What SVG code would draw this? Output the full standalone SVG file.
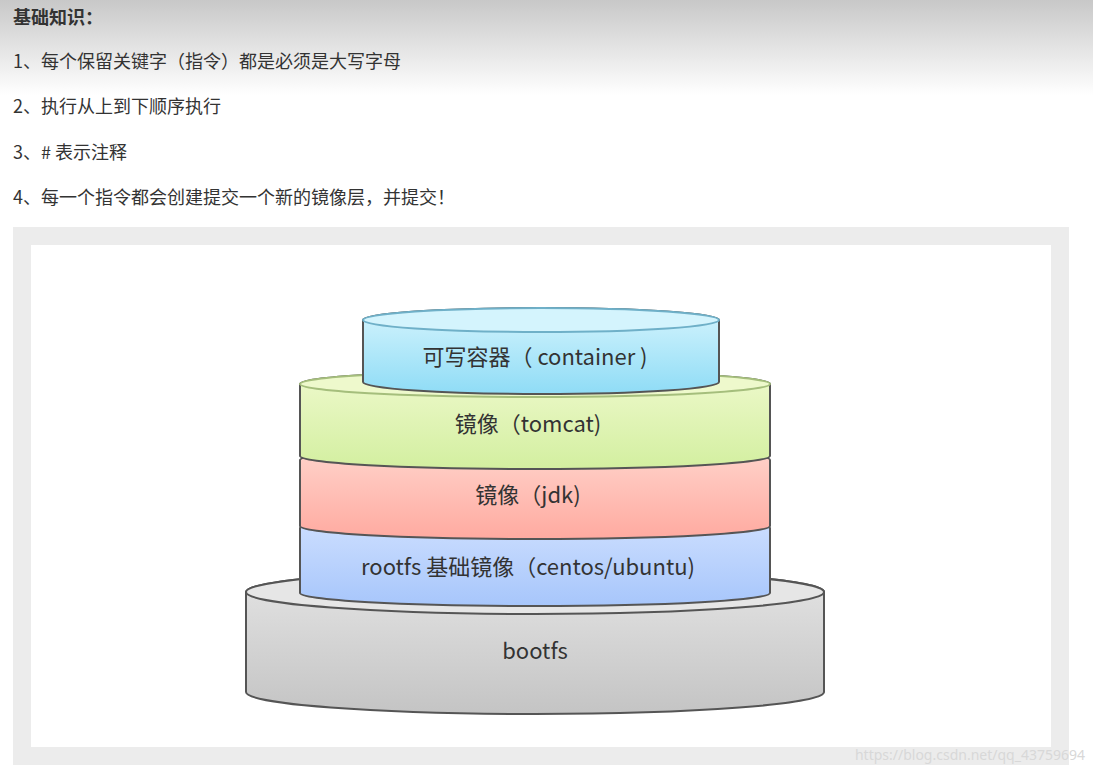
<svg xmlns="http://www.w3.org/2000/svg" width="1093" height="773" viewBox="0 0 1093 773">
<style>
.t{font-family:"Noto Sans CJK SC","Noto Sans",sans-serif;font-size:18px;fill:#333}
.l{font-family:"Noto Sans CJK SC","Noto Sans",sans-serif;font-size:22px;fill:#333;text-anchor:middle}
.cy{stroke:#555;stroke-width:2}
</style>
<defs>
<linearGradient id="hd" x1="0" y1="0" x2="0" y2="1"><stop offset="0" stop-color="#c8c8c8"/><stop offset="1" stop-color="#fff"/></linearGradient>
<linearGradient id="gb" x1="0" y1="0" x2="0" y2="1"><stop offset="0" stop-color="#e4e4e4"/><stop offset="1" stop-color="#c4c4c4"/></linearGradient>
<linearGradient id="gc" x1="0" y1="0" x2="0" y2="1"><stop offset="0" stop-color="#d4f4fd"/><stop offset="1" stop-color="#8fdcf6"/></linearGradient>
<linearGradient id="gg" x1="0" y1="0" x2="0" y2="1"><stop offset="0" stop-color="#eef9cc"/><stop offset="1" stop-color="#d3efa0"/></linearGradient>
<linearGradient id="gr" x1="0" y1="0" x2="0" y2="1"><stop offset="0" stop-color="#ffd4cc"/><stop offset="1" stop-color="#ffaaa0"/></linearGradient>
<linearGradient id="gu" x1="0" y1="0" x2="0" y2="1"><stop offset="0" stop-color="#cfe0ff"/><stop offset="1" stop-color="#a7c6fb"/></linearGradient>
</defs>
<rect width="1093" height="773" fill="#fff"/>
<rect width="1093" height="95" fill="url(#hd)"/>
<g id="text">
<text class="t" x="13" y="24" font-weight="bold">基础知识：</text>
<text class="t" x="13" y="68">1、每个保留关键字（指令）都是必须是大写字母</text>
<text class="t" x="13" y="113">2、执行从上到下顺序执行</text>
<text class="t" x="13" y="159">3、# 表示注释</text>
<text class="t" x="13" y="204">4、每一个指令都会创建提交一个新的镜像层，并提交！</text>
</g>
<rect x="13" y="227" width="1056" height="538" fill="#ececec"/>
<rect x="31" y="245" width="1020" height="502" fill="#fff"/>
<g id="bootfs">
<path class="cy" fill="url(#gb)" d="M246,592 L246,692 A289,22 0 0 0 824,692 L824,592 A289,22 0 0 0 246,592 Z"/>
<ellipse class="cy" cx="535" cy="592" rx="289" ry="22" fill="#e6e6e6"/>
<text class="l" x="535" y="659">bootfs</text>
</g>
<g id="rootfs">
<path class="cy" fill="url(#gu)" stroke="#7f9fd0" d="M300,528 L300,593 A235,13 0 0 0 770,593 L770,528 A235,13 0 0 0 300,528 Z"/>
<text class="l" x="528" y="575">rootfs 基础镜像（centos/ubuntu)</text>
</g>
<g id="jdk">
<path class="cy" fill="url(#gr)" stroke="#c07a70" d="M300,460 L300,526 A235,13 0 0 0 770,526 L770,460 A235,13 0 0 0 300,460 Z"/>
<text class="l" x="528" y="503">镜像（jdk)</text>
</g>
<g id="tomcat">
<path class="cy" fill="url(#gg)" stroke="#a5be7c" d="M300,384 L300,456 A235,13 0 0 0 770,456 L770,384 A235,13 0 0 0 300,384 Z"/>
<ellipse cx="535" cy="384" rx="235" ry="13" fill="#eef9cc" stroke="#a5be7c" stroke-width="2"/>
<text class="l" x="528" y="432">镜像（tomcat)</text>
</g>
<g id="container">
<path class="cy" fill="url(#gc)" stroke="#6fb0c8" d="M363,320 L363,382 A178,12 0 0 0 719,382 L719,320 A178,12 0 0 0 363,320 Z"/>
<ellipse cx="541" cy="320" rx="178" ry="12" fill="#d4f4fd" stroke="#6fb0c8" stroke-width="2"/>
<text class="l" x="535" y="365">可写容器（ container )</text>
</g>
<g id="connectors"/>
<text x="1085" y="760" text-anchor="end" font-family="Noto Sans,sans-serif" font-size="14" fill="#d8d8d8">https://blog.csdn.net/qq_43759694</text>
</svg>
